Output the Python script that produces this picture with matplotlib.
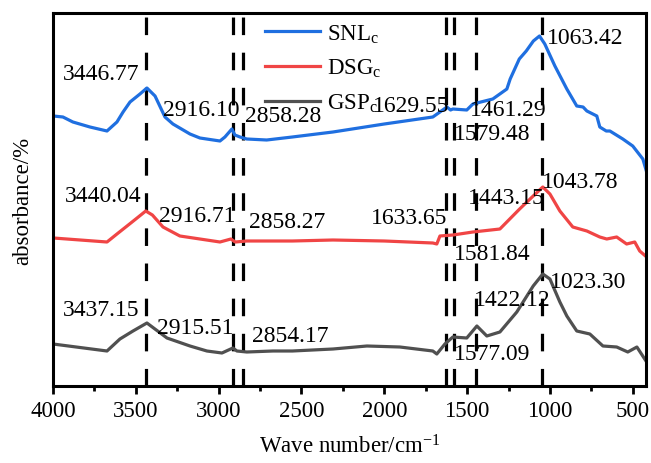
import matplotlib
matplotlib.use("Agg")
import matplotlib.pyplot as plt
from matplotlib.ticker import MultipleLocator

plt.rcParams['font.family'] = ['Liberation Serif', 'DejaVu Serif']
plt.rcParams['mathtext.fontset'] = 'custom'
plt.rcParams['mathtext.rm'] = 'Liberation Serif'
plt.rcParams['mathtext.it'] = 'Liberation Serif:italic'

# ---- data ----
snl_wn = [4000, 3998, 3940, 3880, 3777, 3674, 3614, 3577, 3535, 3475, 3433, 3384, 3324, 3276, 3173,
          3113, 2992, 2962, 2920, 2902, 2871, 2830, 2710, 2555, 2310, 2000, 1707, 1664, 1622, 1600,
          1586, 1502, 1465, 1345, 1260, 1240, 1185, 1143, 1100, 1063, 1031, 970, 898, 838, 800,
          777, 717, 699, 660, 638, 560, 500, 439, 416]
snl_abs = [212, 270, 269, 264, 259, 255, 264, 274, 284, 292, 298, 290, 269, 262, 252,
           248, 245, 249, 257, 251, 249, 247, 246, 249, 254, 262, 269, 274, 279, 276,
           277, 276, 282, 287, 297, 307, 327, 335, 345, 350, 342, 320, 297, 280, 279,
           275, 270, 259, 255, 255, 247, 240, 227, 214]

dsg_wn = [4000, 3998, 3674, 3614, 3553, 3500, 3440, 3400, 3336, 3234, 3113, 2992, 2926, 2900, 2830,
          2555, 2310, 2000, 1707, 1683, 1664, 1586, 1465, 1302, 1183, 1101, 1043, 1000, 940, 862,
          777, 699, 657, 597, 537, 488, 458, 416]
dsg_abs = [125, 148, 144, 152, 160, 167, 175, 171, 159, 150, 147, 144, 147, 144, 145,
           145, 146, 145, 143, 142, 150, 151, 154, 157, 177, 190, 199, 192, 175, 159,
           155, 149, 147, 149, 142, 144, 135, 129]

gsp_wn = [4000, 3674, 3596, 3517, 3433, 3312, 3173, 3071, 2980, 2914, 2890, 2830, 2672, 2555, 2310,
          2105, 1906, 1707, 1683, 1634, 1586, 1502, 1441, 1381, 1302, 1200, 1101, 1043, 1000, 940,
          898, 838, 759, 680, 597, 530, 475, 416]
gsp_abs = [42, 35, 47, 55, 63, 48, 40, 35, 33, 38, 35, 34, 35, 35, 37,
           40, 39, 35, 32, 42, 49, 48, 60, 50, 54, 74, 100, 112, 107, 84,
           70, 55, 52, 40, 39, 34, 39, 24]

series_labels = ['SNL$_\\mathrm{c}$', 'DSG$_\\mathrm{c}$', 'GSP$_\\mathrm{c}$']
series_colors = ['#1F6FE0', '#F04545', '#505050']

marker_lines = [3440, 2916, 2850, 1630, 1580, 1445, 1050]

peak_texts = ['3446.77', '2916.10', '2858.28', '1629.55', '1461.29', '1579.48', '1063.42',
              '3440.04', '2916.71', '2858.27', '1633.65', '1443.15', '1043.78', '1581.84',
              '3437.15', '2915.51', '2854.17', '1422.12', '1023.30', '1577.09']
# label anchor positions (wave number, absorbance units)
peak_text_x = [3710, 3107, 2612, 1840, 1254, 1351, 789,
               3698, 3131, 2588, 1852, 1266, 820, 1351,
               3710, 3143, 2570, 1230, 771, 1351]
peak_text_y = [312, 277, 271, 281, 277, 253, 349,
               191, 171, 165, 169, 189, 204, 133,
               76, 59, 50, 87, 105, 32]

xticks = [4000, 3500, 3000, 2500, 2000, 1500, 1000, 500]

# ---- figure ----
fig = plt.figure(figsize=(6.51, 4.64), dpi=100)
ax = fig.add_axes([53/651, 1-387/464, (646-53)/651, (387-14)/464])

for wn, ab, lab, col in zip([snl_wn, dsg_wn, gsp_wn], [snl_abs, dsg_abs, gsp_abs],
                            series_labels, series_colors):
    ax.plot(wn, ab, color=col, lw=2.3, label=lab, solid_joinstyle='round')

for xv in marker_lines:
    ax.axvline(xv, color='black', lw=2.3, linestyle=(0, (5.5, 5.5)), zorder=1)

for t, x, y in zip(peak_texts, peak_text_x, peak_text_y):
    ax.text(x, y, t, fontsize=17, ha='center', va='center', zorder=5)

ax.set_xlim(4000, 420)
ax.set_ylim(0, 373)
ax.set_xticks(xticks)
ax.xaxis.set_minor_locator(MultipleLocator(250))
ax.set_yticks([])
ax.tick_params(axis='x', which='major', direction='out', length=6, width=2, labelsize=16.5, pad=4)
ax.tick_params(axis='x', which='minor', direction='out', length=3.5, width=2)
for s in ax.spines.values():
    s.set_linewidth(2.2)

ax.set_xlabel('Wave number/cm$^{\\mathrm{-1}}$', fontsize=16.5, labelpad=10)
ax.set_ylabel('absorbance/%', fontsize=16.5, labelpad=14)

leg = ax.legend(loc='upper left', bbox_to_anchor=((251-53)/593, 1.012), frameon=False,
                fontsize=16.5, handlelength=2.4, handletextpad=0.3, labelspacing=0.55,
                borderaxespad=0.2)

fig.savefig('out.png', dpi=100)
